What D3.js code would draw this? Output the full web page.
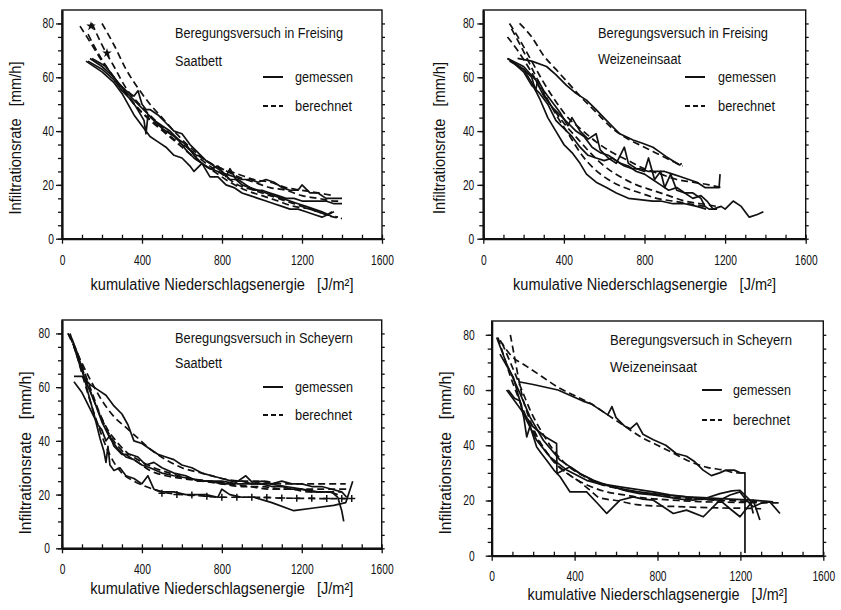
<!DOCTYPE html>
<html>
<head>
<meta charset="utf-8">
<script src="https://cdn.jsdelivr.net/npm/d3@7"></script>
<style>
  html, body { margin: 0; padding: 0; background: #fff; }
  svg { display: block; }
  text { font-family: "Liberation Sans", Arial, sans-serif; fill: #111; white-space: pre; }
</style>
</head>
<body>
<svg id="chart" width="841" height="610"></svg>
<script>
// ---------- data ----------
const xTicks = [0, 400, 800, 1200, 1600];
const yTicks = [0, 20, 40, 60, 80];
const legendLabels = ['gemessen', 'berechnet'];
const titles = ['Beregungsversuch in Freising', 'Beregungsversuch in Freising',
                'Beregungsversuch in Scheyern', 'Beregungsversuch in Scheyern'];
const subtitles = ['Saatbett', 'Weizeneinsaat', 'Saatbett', 'Weizeneinsaat'];

// Freising, Saatbett
const fsGemessen = [
  [[140,67],[200,64],[260,60],[300,56],[340,53],[380,50],[420,47],[460,44],[500,42],[540,40],[580,37],[620,33],[660,30],[700,28],[740,26],[780,25],[820,24],[860,23],[900,22],[940,22],[980,21],[1020,22],[1060,21],[1100,19],[1140,18],[1180,18],[1200,20],[1240,17],[1280,17],[1320,15],[1360,15],[1400,15]],
  [[120,66],[200,62],[260,58],[300,54],[360,46],[400,42],[440,38],[480,36],[520,34],[560,31],[600,30],[640,27],[660,25],[700,28],[740,23],[780,23],[820,20],[860,19],[900,17],[940,16],[980,15],[1020,14],[1060,13],[1100,12],[1140,11],[1180,11],[1220,10],[1260,9],[1300,8],[1330,9],[1360,10]],
  [[150,67],[220,64],[280,58],[320,55],[360,53],[380,55],[400,50],[420,48],[440,48],[480,46],[520,43],[560,40],[600,39],[640,35],[680,32],[720,29],[760,27],[800,25],[840,22],[880,22],[920,20],[960,18],[1000,18],[1040,17],[1080,16],[1120,15],[1160,15],[1200,14],[1240,14],[1280,14],[1320,14],[1360,13],[1400,13]],
  [[130,66],[200,63],[260,59],[300,55],[340,52],[370,49],[410,44],[420,39],[430,46],[460,44],[500,41],[540,39],[580,37],[620,35],[660,31],[700,28],[740,26],[780,27],[820,23],[840,26],[870,22],[900,20],[940,19],[980,18],[1020,17],[1060,16],[1100,15],[1140,14],[1180,13],[1220,12],[1260,11],[1300,10],[1330,9],[1350,10]]
];
const fsBerechnet = [
  [[90,79],[150,72],[200,66],[260,60],[320,54],[400,47],[480,42],[560,37],[640,33],[720,29],[800,26],[880,23],[960,21],[1040,19],[1120,18],[1200,16],[1280,15],[1360,14],[1400,14]],
  [[200,80],[260,72],[320,63],[380,56],[440,50],[500,45],[560,40],[640,34],[720,29],[800,26],[880,24],[960,22],[1040,21],[1120,19],[1200,18],[1280,17],[1360,16]],
  [[150,80],[200,72],[260,64],[320,56],[400,49],[480,43],[560,38],[640,33],[720,28],[800,24],[880,20],[960,18],[1040,16],[1120,14],[1200,12],[1280,10],[1360,8],[1400,7.5]],
  [[130,76],[180,69],[240,62],[300,56],[360,50],[440,44],[520,39],[600,34],[680,29],[760,25],[840,21],[920,18],[1000,16],[1080,14],[1160,12],[1240,11],[1320,9],[1380,8]]
];
const fsSterne = [[145,79],[225,69]];

// Freising, Weizeneinsaat
const fwGemessen = [
  [[170,67],[240,66],[314,64],[360,61],[413,57],[460,54],[512,51.5],[560,48],[611,44],[650,41],[677,39],[720,37.5],[743,36.7],[790,35.5],[842,34],[880,32],[908,30.5],[940,29],[974,27.4],[985,28]],
  [[120,67],[200,64],[260,59],[300,53],[340,49],[380,46],[420,43],[460,40],[500,38],[540,34],[580,32],[620,31],[660,29],[700,27],[740,26],[780,26],[820,25],[860,25],[900,25],[940,24],[980,23],[1020,22],[1060,21],[1100,19],[1140,19],[1170,19],[1175,24]],
  [[130,66],[200,63],[240,60],[260,55],[270,59],[300,55],[340,51],[380,47],[420,42],[440,45],[480,40],[520,37],[560,39],[580,33],[620,30],[660,28],[700,34],[720,28],[760,26],[800,25],[820,30],[850,22],[880,25],[900,19],[930,24],[960,18],[1000,17],[1040,15],[1080,16],[1110,14],[1140,11],[1180,12],[1200,11],[1240,14],[1280,12],[1320,8],[1360,9],[1390,10]],
  [[120,67],[200,63],[240,58],[280,52],[320,45],[360,40],[400,35],[440,32],[480,28],[512,24],[560,21],[611,19],[660,17],[720,15],[776,14.5],[840,14],[880,14],[941,13],[1000,13],[1060,12],[1106,11]],
  [[140,66],[200,62],[240,57],[280,54],[320,50],[360,44],[400,41],[440,38],[480,34],[520,31],[560,30],[600,29],[640,30],[680,28],[720,27],[760,25],[800,24],[840,22],[880,20],[920,18],[960,19],[1000,17],[1040,17],[1080,15],[1100,12],[1120,11],[1160,11]]
];
const fwBerechnet = [
  [[180,80],[240,75],[300,68],[360,63],[420,58],[480,53],[560,47],[640,41],[720,37],[800,34],[880,31],[960,28],[990,27]],
  [[130,80],[180,74],[240,66],[300,58],[360,51],[420,45],[480,41],[560,36],[640,32],[720,29],[800,26],[880,24],[960,22],[1040,21],[1120,20],[1180,19]],
  [[120,75],[170,70],[230,63],[290,55],[350,48],[410,42],[470,37],[530,32],[600,27],[680,23],[760,20],[840,18],[920,16],[1000,14],[1080,13],[1160,12]],
  [[140,78],[190,71],[250,62],[310,53],[370,45],[430,38],[490,31],[550,26],[620,22],[700,19],[780,17],[860,15],[940,14],[1020,13],[1100,12]]
];

// Scheyern, Saatbett
const ssGemessen = [
  [[60,64],[100,64],[140,61],[180,59],[220,57],[260,53],[300,50],[330,46],[360,40],[400,39],[440,37],[480,35],[520,34],[560,33],[600,31],[650,30],[700,28],[750,27],[800,26],[850,25],[900,25],[950,24],[1000,25],[1050,24],[1100,25],[1150,24],[1200,24],[1250,23],[1300,23],[1350,22],[1400,21],[1425,19]],
  [[60,62],[100,58],[140,52],[180,46],[200,44],[220,40],[240,42],[260,38],[300,35],[340,35],[380,34],[420,31],[460,32],[500,30],[560,28],[620,27],[680,25],[740,25],[800,24],[860,24],[920,27],[960,24],[1000,24],[1050,23],[1100,23],[1150,22],[1200,22],[1250,21],[1300,21],[1350,21],[1380,19],[1400,14],[1410,10]],
  [[50,78],[80,72],[100,67],[130,58],[160,50],[190,41],[210,36],[220,32],[230,38],[240,31],[260,29],[290,30],[320,27],[360,26],[400,24],[430,27],[460,22],[500,21],[560,21],[620,20],[680,20],[720,20],[780,19],[800,22],[840,20],[900,19],[960,19],[1050,17],[1160,14],[1260,15],[1360,16],[1420,17],[1455,25]],
  [[60,75],[90,68],[120,62],[160,55],[200,47],[240,41],[280,37],[320,34],[360,33],[400,31],[440,30],[500,28],[560,27],[640,26],[720,25],[800,25],[880,24],[960,24],[1040,24],[1120,23],[1200,22],[1280,21],[1340,21],[1380,20]]
];
const ssBerechnet = [
  [[30,80],[80,72],[140,63],[200,55],[260,49],[320,45],[380,41],[440,37],[520,33],[600,30],[700,28],[800,26],[900,25],[1000,25],[1100,24],[1200,24],[1300,24],[1420,24]],
  [[40,79],[80,71],[120,63],[160,55],[200,48],[240,42],[280,38],[320,35],[380,32],[440,29],[520,27],[600,26],[700,25],[800,24],[900,23],[1000,23],[1100,22],[1200,22],[1300,22],[1430,22]],
  [[40,80],[70,73],[100,65],[140,55],[180,46],[220,38],[260,32],[300,28],[360,25],[420,23],[500,21],[600,20],[700,19.5],[800,19],[900,19],[1000,19],[1100,18.7],[1200,18.6],[1300,18.5],[1450,18.5]],
  [[30,80],[70,74],[110,66],[150,58],[190,50],[230,44],[270,40],[320,36],[380,33],[460,30],[540,28],[640,26],[740,25],[840,24],[940,23],[1040,22],[1140,22],[1240,21],[1340,21],[1400,21]]
];
const ssKreuze = [[500,20.5],[575,20],[650,19.8],[725,19.4],[800,19],[875,19],[950,19],[1025,18.9],[1100,18.7],[1175,18.6],[1250,18.6],[1325,18.5],[1400,18.5],[1450,18.5]];

// Scheyern, Weizeneinsaat
const swGemessen = [
  [[130,63],[200,62],[260,61],[320,60],[380,58],[440,56],[480,55],[520,53],[560,51],[580,54],[600,50],[640,47],[670,46],[700,48],[730,44],[780,42],[840,40],[890,37],[940,36],[980,34],[1020,31],[1060,29],[1100,30],[1130,31],[1170,31],[1200,30],[1222,30],[1222,1]],
  [[24,79],[72,69.5],[137,58.7],[185,50.2],[249,41.8],[330,34.6],[426,29.8],[523,26.1],[619,24.9],[700,24],[780,23.1],[860,22],[940,21.3],[1020,20.5],[1101,20.1],[1150,22],[1198,23.1],[1230,20],[1262,17.7],[1300,19],[1342,19.5],[1391,15.3]],
  [[80,60],[110,57],[137,56],[155,50],[169,43],[185,47],[217,39.4],[240,37],[265,34.6],[300,31],[330,28.6],[378,23.1],[458,23.1],[510,19],[555,15.3],[619,20.1],[683,21.3],[730,20.5],[780,20.1],[876,15.3],[940,16.5],[1021,14.1],[1101,20.1],[1150,17],[1198,14.1],[1262,20.1],[1294,12.9]],
  [[72,60],[140,53],[201,46.6],[260,43],[313,40.6],[315,29.8],[378,32.2],[430,29.5],[490,27.3],[560,25.5],[619,24.3],[700,23.2],[780,22.5],[860,21.8],[940,21.3],[1020,21],[1101,20.7],[1180,20.4],[1262,20.1],[1358,19.5]],
  [[40,73],[104,64.7],[153,51.4],[217,41.8],[281,35.8],[362,31],[458,27.3],[520,26],[587,24.9],[650,23.5],[715,22.5],[780,22],[844,21.3],[910,20.5],[972,20.1],[1040,21],[1101,22.5],[1160,23.5],[1198,23.7],[1246,20.1],[1262,15.3]]
];
const swBerechnet = [
  [[40,78],[100,72],[160,69],[240,65],[320,61],[400,58],[480,55],[560,51],[640,47],[720,43],[800,40],[880,37],[960,34],[1040,32],[1120,31],[1180,30],[1230,30]],
  [[90,80],[110,72],[130,64],[150,57],[180,50],[220,43],[270,37],[330,32],[400,28],[480,25],[560,23],[640,22],[720,21],[800,20.5],[900,20],[1000,19.6],[1100,19.4],[1200,19.3],[1300,19.2],[1400,19.1]],
  [[30,79],[60,72],[90,65],[130,57],[180,48],[240,40],[300,34],[360,30],[420,27],[470,24],[520,21],[600,20],[700,18.5],[800,18],[900,17.8],[1000,17.5],[1100,17.3],[1200,17.2],[1300,17]],
  [[50,77],[90,70],[140,61],[190,52],[240,45],[300,38],[360,33],[440,29],[520,26],[600,24.5],[700,23],[800,22],[900,21],[1000,20.5],[1100,20],[1200,19.8],[1280,19.5]]
];

// ---------- layout ----------
const panels = [
  { gem: fsGemessen, ber: fsBerechnet, stars: fsSterne,
    left: 62, right: 382, top: 10, bottom: 238.7, yPad: 2, xPad: 11,
    titleX: 175, titleY: 38, subY: 66, titleW: 168, subW: 47,
    legX: 263, legTX: 295, legY1: 77, legY2: 106, legT1: 82, legT2: 111,
    xlabY: 290, xlabW: 263, ylabX: 21, ylabY: 138, ylabW: 153 },
  { gem: fwGemessen, ber: fwBerechnet,
    left: 483.3, right: 805.7, top: 10, bottom: 238.7, yPad: 3, xPad: 11,
    titleX: 598, titleY: 38, subY: 64, titleW: 170, subW: 83,
    legX: 685, legTX: 718, legY1: 77, legY2: 106, legT1: 82, legT2: 111,
    xlabY: 290, xlabW: 263, ylabX: 445, ylabY: 138, ylabW: 152 },
  { gem: ssGemessen, ber: ssBerechnet, plus: ssKreuze,
    left: 62, right: 381.7, top: 320, bottom: 548.3, yPad: 6, xPad: 11,
    titleX: 175, titleY: 343, subY: 368, titleW: 178, subW: 47,
    legX: 263, legTX: 295, legY1: 387, legY2: 415, legT1: 392, legT2: 420,
    xlabY: 594, xlabW: 263, ylabX: 31, ylabY: 453, ylabW: 163 },
  { gem: swGemessen, ber: swBerechnet,
    left: 491.7, right: 823.3, top: 321, bottom: 555.7, yPad: 11, xPad: 10,
    titleX: 610, titleY: 345, subY: 372, titleW: 182, subW: 87,
    legX: 702, legTX: 733, legY1: 390, legY2: 420, legT1: 395, legT2: 425,
    xlabY: 600, xlabW: 260, ylabX: 451, ylabY: 453, ylabW: 163 }
];

const svg = d3.select('#chart');
const ink = '#111';
const fmt = d3.format('d');

panels.forEach((p, i) => {
  const x = d3.scaleLinear().domain([0, 1600]).range([p.left, p.right]);
  const y = d3.scaleLinear().domain([0, 85]).range([p.bottom, p.top]);
  const g = svg.append('g');

  // frame
  g.append('rect')
    .attr('x', p.left).attr('y', p.top)
    .attr('width', p.right - p.left).attr('height', p.bottom - p.top)
    .attr('fill', 'none').attr('stroke', ink).attr('stroke-width', 1.4);

  // minor ticks
  g.append('g').attr('transform', `translate(0,${p.bottom})`)
    .call(d3.axisBottom(x).tickValues(d3.range(0, 1601, 100)).tickSize(-4).tickFormat(''))
    .call(a => a.select('.domain').remove());
  g.append('g').attr('transform', `translate(${p.left},0)`)
    .call(d3.axisLeft(y).tickValues(d3.range(0, 81, 5)).tickSize(4).tickFormat(''))
    .call(a => a.select('.domain').remove());
  g.append('g').attr('transform', `translate(${p.right},0)`)
    .call(d3.axisLeft(y).tickValues(d3.range(0, 81, 5)).tickSize(-3).tickFormat(''))
    .call(a => a.select('.domain').remove());

  // major axes
  const gx = g.append('g').attr('transform', `translate(0,${p.bottom})`)
    .call(d3.axisBottom(x).tickValues(xTicks).tickFormat(fmt).tickSize(5).tickSizeOuter(0).tickPadding(p.xPad));
  const gy = g.append('g').attr('transform', `translate(${p.left},0)`)
    .call(d3.axisLeft(y).tickValues(yTicks).tickFormat(fmt).tickSize(6).tickSizeOuter(0).tickPadding(p.yPad));
  [gx, gy].forEach(a => {
    a.select('.domain').attr('stroke', ink).attr('stroke-width', 2.2);
    a.selectAll('.tick text').attr('font-size', 14).attr('fill', ink)
      .style('font-family', '"Liberation Sans", Arial, sans-serif')
      .attr('textLength', d => String(d).length * 5.7)
      .attr('lengthAdjust', 'spacingAndGlyphs');
  });
  g.selectAll('.tick line').attr('stroke', ink).attr('stroke-width', 1.3);

  // curves
  const lineM = d3.line().x(d => x(d[0])).y(d => y(d[1]));
  const lineC = d3.line().x(d => x(d[0])).y(d => y(d[1])).curve(d3.curveMonotoneX);

  g.append('g').selectAll('path').data(p.ber).join('path')
    .attr('d', lineC).attr('fill', 'none').attr('stroke', ink)
    .attr('stroke-width', 1.7).attr('stroke-dasharray', '7,4');
  g.append('g').selectAll('path').data(p.gem).join('path')
    .attr('d', lineM).attr('fill', 'none').attr('stroke', ink)
    .attr('stroke-width', 1.7).attr('stroke-linejoin', 'round');

  if (p.stars) {
    g.append('g').selectAll('path').data(p.stars).join('path')
      .attr('transform', d => `translate(${x(d[0])},${y(d[1])})`)
      .attr('d', d3.symbol(d3.symbolStar, 28)).attr('fill', ink);
  }
  if (p.plus) {
    g.append('g').selectAll('path').data(p.plus).join('path')
      .attr('transform', d => `translate(${x(d[0])},${y(d[1])})`)
      .attr('d', 'M-3.5,0H3.5M0,-3.5V3.5').attr('fill', 'none')
      .attr('stroke', ink).attr('stroke-width', 1.5);
  }

  // titles inside the plot
  g.append('text').attr('x', p.titleX).attr('y', p.titleY)
    .attr('font-size', 14).attr('textLength', p.titleW).attr('lengthAdjust', 'spacingAndGlyphs')
    .text(titles[i]);
  g.append('text').attr('x', p.titleX).attr('y', p.subY)
    .attr('font-size', 14).attr('textLength', p.subW).attr('lengthAdjust', 'spacingAndGlyphs')
    .text(subtitles[i]);

  // legend
  g.append('line').attr('x1', p.legX).attr('x2', p.legX + 20)
    .attr('y1', p.legY1).attr('y2', p.legY1).attr('stroke', ink).attr('stroke-width', 2);
  g.append('line').attr('x1', p.legX).attr('x2', p.legX + 20)
    .attr('y1', p.legY2).attr('y2', p.legY2).attr('stroke', ink).attr('stroke-width', 1.8)
    .attr('stroke-dasharray', '5,3');
  g.append('text').attr('x', p.legTX).attr('y', p.legT1).attr('font-size', 14)
    .attr('textLength', 58).attr('lengthAdjust', 'spacingAndGlyphs').text(legendLabels[0]);
  g.append('text').attr('x', p.legTX).attr('y', p.legT2).attr('font-size', 14)
    .attr('textLength', 57).attr('lengthAdjust', 'spacingAndGlyphs').text(legendLabels[1]);

  // axis titles
  g.append('text').attr('x', (p.left + p.right) / 2).attr('y', p.xlabY)
    .attr('text-anchor', 'middle').attr('font-size', 16)
    .attr('textLength', p.xlabW).attr('lengthAdjust', 'spacingAndGlyphs')
    .text('kumulative Niederschlagsenergie   [J/m²]');

  g.append('text')
    .attr('transform', `translate(${p.ylabX},${p.ylabY}) rotate(-90)`)
    .attr('text-anchor', 'middle').attr('font-size', 16)
    .attr('textLength', p.ylabW).attr('lengthAdjust', 'spacingAndGlyphs')
    .text('Infiltrationsrate   [mm/h]');
});
</script>
</body>
</html>
